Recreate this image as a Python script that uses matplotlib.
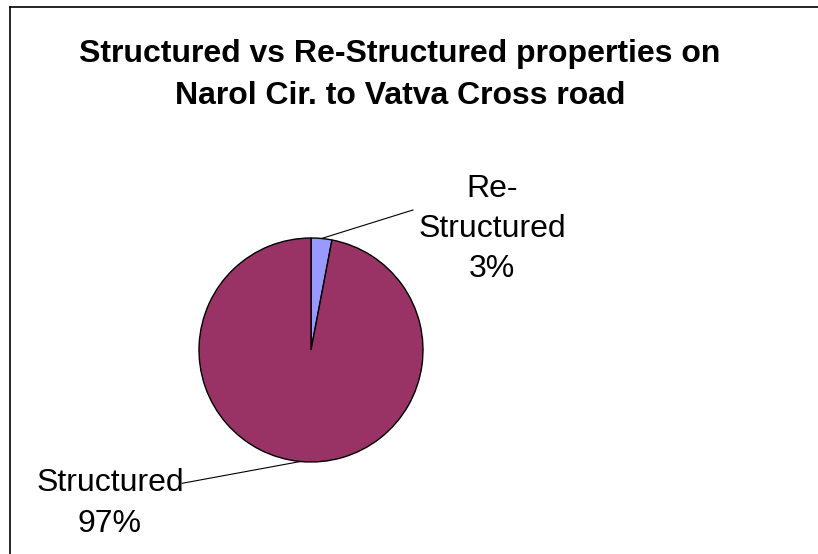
import numpy as np
import matplotlib
matplotlib.use("Agg")
import matplotlib.pyplot as plt
from matplotlib.lines import Line2D

plt.rcParams['font.family'] = ['Liberation Sans', 'DejaVu Sans']

title = "Structured vs Re-Structured properties on\nNarol Cir. to Vatva Cross road"
categories = ["Re-\nStructured", "Structured"]
values = [3, 97]
colors = ["#9999FF", "#993366"]

W, H = 818, 554
fig = plt.figure(figsize=(W / 100, H / 100), dpi=100)

# border (top and left edges visible)
bx, by = 9.5 / W, 1 - 6.5 / H
fig.add_artist(Line2D([bx, 1.0], [by, by], transform=fig.transFigure, color="black", lw=1.2))
fig.add_artist(Line2D([bx, bx], [0.0, by], transform=fig.transFigure, color="black", lw=1.2))

fig.text(400 / W, 1 - 75 / H, title, ha="center", va="center", fontsize=23,
         fontweight="bold", linespacing=1.52)

cx, cy, r = 311, 350, 112
ax = fig.add_axes([(cx - r) / W, (H - cy - r) / H, 2 * r / W, 2 * r / H])
wedges, _ = ax.pie(values, colors=colors, startangle=90, counterclock=False,
                   wedgeprops=dict(edgecolor="black", linewidth=1.0))
ax.set_xlim(-1, 1)
ax.set_ylim(-1, 1)
ax.set_aspect("equal")
ax.axis("off")

total = sum(values)
label_pos = [(1.616, 1.08), (-1.795, -1.37)]
line_end = [(0.91, 1.25), (-1.15, -1.19)]
for w, cat, v, (tx, ty), (lx, ly) in zip(wedges, categories, values, label_pos, line_end):
    mid = np.deg2rad((w.theta1 + w.theta2) / 2)
    px, py = np.cos(mid), np.sin(mid)
    ax.plot([px, lx], [py, ly], color="black", lw=0.8, clip_on=False)
    ax.text(tx, ty, f"{cat}\n{v / total * 100:.0f}%", ha="center", va="center",
            fontsize=23, linespacing=1.45, clip_on=False)

fig.savefig("out.png", dpi=100)
